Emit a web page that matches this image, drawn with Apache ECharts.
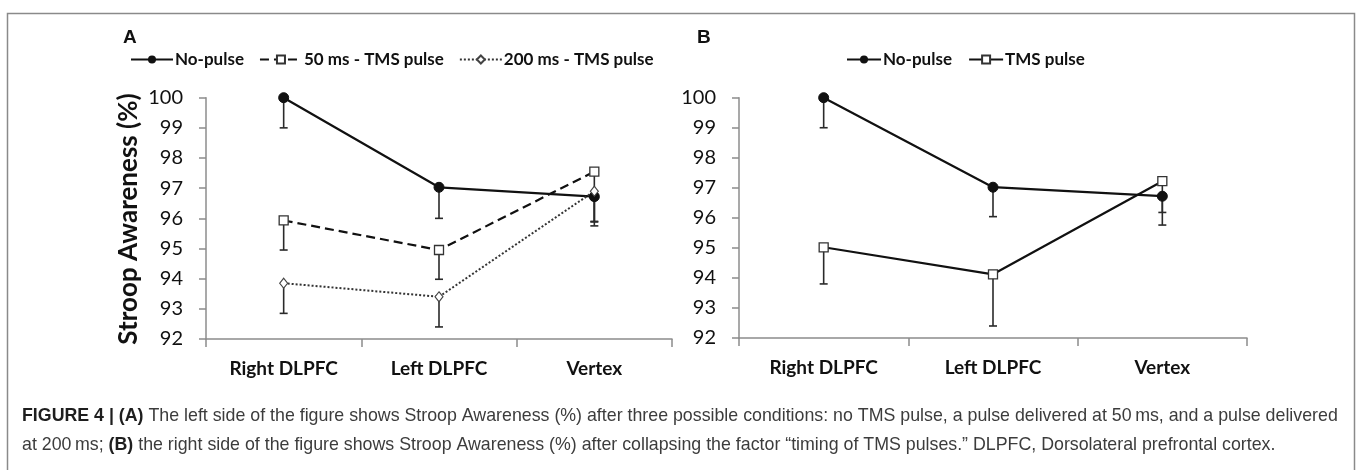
<!DOCTYPE html>
<html>
<head>
<meta charset="utf-8">
<script src="https://cdn.jsdelivr.net/npm/echarts@6/dist/echarts.min.js"></script>
<style>
html,body{margin:0;padding:0;background:#fff;}
#chart{width:1357px;height:470px;}
</style>
</head>
<body>
<div id="chart"></div>
<script>
// ---- data ----
const categories = ['Right DLPFC', 'Left DLPFC', 'Vertex'];
const yMin = 92, yMax = 100, yStep = 1;

// Panel A
const noPulseA = [100, 97.03, 96.72];
const noPulseA_low = [99.0, 96.0, 95.75];
const ms50A = [95.93, 94.95, 97.55];
const ms50A_low = [94.95, 93.98, 95.9];
const ms200A = [93.85, 93.4, 96.9];
const ms200A_low = [92.85, 92.4, 95.88];

// Panel B
const noPulseB = [100, 97.02, 96.72];
const noPulseB_low = [99.0, 96.04, 95.76];
const tmsB = [95.02, 94.12, 97.22];
const tmsB_low = [93.8, 92.4, 96.18];

const namesA = ['No-pulse', '50 ms - TMS pulse', '200 ms - TMS pulse'];
const namesB = ['No-pulse', 'TMS pulse'];

const captionLine1 = ['FIGURE 4 | (A)', ' The left side of the figure shows Stroop Awareness (%) after three possible conditions: no TMS pulse, a pulse delivered at 50\u2009ms, and a pulse delivered'];
const captionLine2 = ['at 200\u2009ms; ', '(B)', ' the right side of the figure shows Stroop Awareness (%) after collapsing the factor \u201Ctiming of TMS pulses.\u201D DLPFC, Dorsolateral prefrontal cortex.'];

// ---- chart ----
const FONT = 'Lato, "Open Sans", sans-serif';
const CAP_FONT = '"Liberation Sans", Arial, sans-serif';
const AXIS_COLOR = '#8c8c8c';

function errData(vals, lows) {
  return vals.map((v, i) => [i, v, lows[i]]);
}
function errSeries(grid, vals, lows) {
  return {
    type: 'custom',
    xAxisIndex: grid, yAxisIndex: grid,
    z: 1,
    silent: true,
    data: errData(vals, lows),
    encode: { x: 0, y: [1, 2] },
    renderItem: function (params, api) {
      const p1 = api.coord([api.value(0), api.value(1)]);
      const p2 = api.coord([api.value(0), api.value(2)]);
      const st = { stroke: '#2a2a2a', lineWidth: 1.6 };
      return {
        type: 'group',
        children: [
          { type: 'line', shape: { x1: p1[0], y1: p1[1], x2: p2[0], y2: p2[1] }, style: st },
          { type: 'line', shape: { x1: p2[0] - 4, y1: p2[1], x2: p2[0] + 4, y2: p2[1] }, style: st }
        ]
      };
    }
  };
}

function lineSeries(grid, name, vals, kind) {
  const s = {
    type: 'line', name: name,
    xAxisIndex: grid, yAxisIndex: grid,
    data: vals, z: 3,
    lineStyle: { color: '#111', width: 2.2 },
    itemStyle: { color: '#111', borderColor: '#111' },
    symbolSize: 9, showSymbol: true
  };
  if (kind === 'circle') {
    s.symbol = 'circle'; s.symbolSize = 10;
  } else if (kind === 'rect') {
    s.symbol = 'rect'; s.symbolSize = 9;
    s.itemStyle = { color: '#fff', borderColor: '#333', borderWidth: 1.3 };
    s.lineStyle = { color: '#111', width: 2.2, type: 'solid' };
  } else if (kind === 'rectDash') {
    s.symbol = 'rect'; s.symbolSize = 9;
    s.itemStyle = { color: '#fff', borderColor: '#333', borderWidth: 1.3 };
    s.lineStyle = { color: '#111', width: 2.2, type: [9, 5] };
  } else if (kind === 'diamondDot') {
    s.symbol = 'diamond'; s.symbolSize = [8, 10];
    s.itemStyle = { color: '#fff', borderColor: '#444', borderWidth: 1.1 };
    s.lineStyle = { color: '#333', width: 2, type: [2, 2] };
  }
  return s;
}

function xAxis(grid) {
  return {
    type: 'category', gridIndex: grid, data: categories, boundaryGap: true,
    axisLine: { lineStyle: { color: AXIS_COLOR, width: 1.5 } },
    axisTick: { show: true, length: 8, lineStyle: { color: AXIS_COLOR, width: 1.5 } },
    axisLabel: { color: '#111', fontFamily: FONT, fontWeight: 'bold', fontSize: 19, margin: 20 }
  };
}
function yAxis(grid) {
  return {
    type: 'value', gridIndex: grid, min: yMin, max: yMax, interval: yStep,
    splitLine: { show: false },
    axisLine: { show: true, lineStyle: { color: AXIS_COLOR, width: 1.5 } },
    axisTick: { show: true, length: 7, lineStyle: { color: AXIS_COLOR, width: 1.5 } },
    axisLabel: { color: '#111', fontFamily: FONT, fontSize: 20, margin: 23 }
  };
}

const legendText = { fontFamily: FONT, fontWeight: 'bold', fontSize: 17, color: '#111', padding: [0, 0, 0, -3] };

const option = {
  animation: false,
  backgroundColor: '#fff',
  grid: [
    { left: 206, top: 97.7, right: 685, bottom: 131, containLabel: false },
    { left: 739, top: 97.7, right: 110, bottom: 132, containLabel: false }
  ],
  xAxis: [xAxis(0), xAxis(1)],
  yAxis: [yAxis(0), yAxis(1)],
  legend: [
    {
      data: namesA, left: 125, top: 46, itemWidth: 42, itemHeight: 10, itemGap: 15,
      textStyle: legendText, selectedMode: false
    },
    {
      data: namesB.map(n => n + ' '), left: 841, top: 46, itemWidth: 34, itemHeight: 10, itemGap: 12,
      textStyle: legendText, selectedMode: false
    }
  ],
  series: [
    errSeries(0, noPulseA, noPulseA_low),
    errSeries(0, ms50A, ms50A_low),
    errSeries(0, ms200A, ms200A_low),
    lineSeries(0, namesA[0], noPulseA, 'circle'),
    lineSeries(0, namesA[1], ms50A, 'rectDash'),
    lineSeries(0, namesA[2], ms200A, 'diamondDot'),
    errSeries(1, noPulseB, noPulseB_low),
    errSeries(1, tmsB, tmsB_low),
    lineSeries(1, namesB[0] + ' ', noPulseB, 'circle'),
    lineSeries(1, namesB[1] + ' ', tmsB, 'rect')
  ],
  graphic: [
    { type: 'rect', silent: true, shape: { x: 7.5, y: 13.5, width: 1347, height: 520 },
      style: { fill: 'none', stroke: '#8a8a8a', lineWidth: 1.5 } },
    { type: 'text', left: 123, top: 28, style: { text: 'A', font: 'bold 19px ' + CAP_FONT, fill: '#111' } },
    { type: 'text', left: 697, top: 28, style: { text: 'B', font: 'bold 19px ' + CAP_FONT, fill: '#111' } },
    { type: 'text', x: 129, y: 219, rotation: Math.PI / 2,
      style: { text: 'Stroop Awareness (%)', font: 'bold 26px ' + FONT, fill: '#111', align: 'center', verticalAlign: 'middle' } },
    { type: 'text', left: 22, top: 407,
      style: { text: '{b|' + captionLine1[0] + '}' + captionLine1[1],
        font: '17.8px ' + CAP_FONT, fill: '#3c3c3c',
        rich: { b: { fontWeight: 'bold', fontSize: 17.8, fontFamily: CAP_FONT, fill: '#1e1e1e' } } } },
    { type: 'text', left: 22, top: 436,
      style: { text: captionLine2[0] + '{b|' + captionLine2[1] + '}' + captionLine2[2],
        font: '17.8px ' + CAP_FONT, fill: '#3c3c3c',
        rich: { b: { fontWeight: 'bold', fontSize: 17.8, fontFamily: CAP_FONT, fill: '#1e1e1e' } } } }
  ]
};

const chart = echarts.init(document.getElementById('chart'), null, { renderer: 'canvas' });
chart.setOption(option);
</script>
</body>
</html>
